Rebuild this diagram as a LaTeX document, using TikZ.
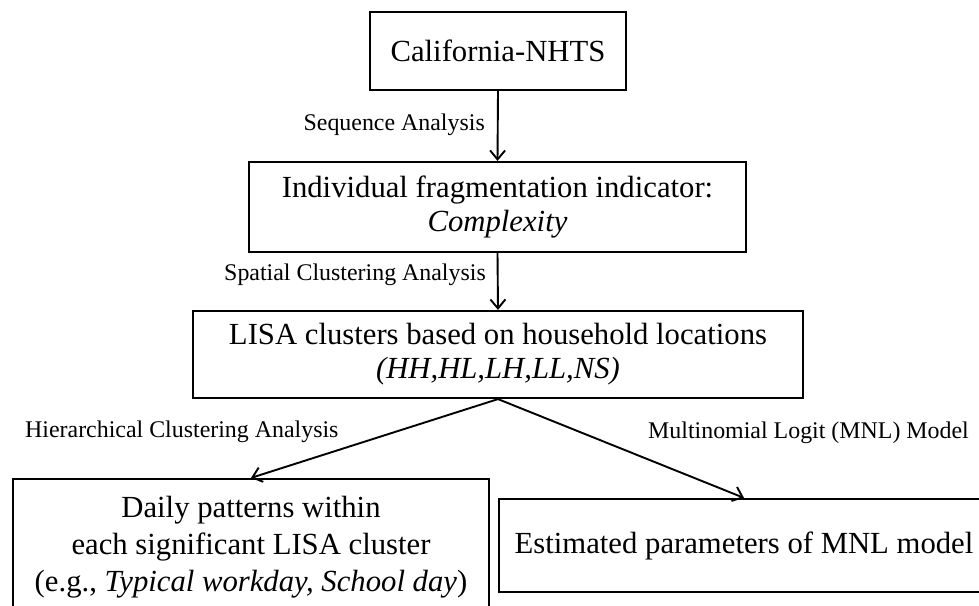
\documentclass[tikz,border=0pt]{standalone}
\usepackage{fontspec}
\setmainfont{Liberation Serif}
\usetikzlibrary{arrows.meta}
\begin{document}
\begin{tikzpicture}[x=1pt,y=-1pt,
  box/.style={draw, line width=2.2pt, align=center, inner sep=0pt,
    font=\fontsize{30.7}{34}\selectfont},
  lbl/.style={inner sep=0pt, font=\fontsize{23.9}{28}\selectfont},
  arr/.style={line width=1.9pt, -{Straight Barb[length=9pt,width=15pt,line width=1.9pt]}}]
\useasboundingbox (0,0) rectangle (979,605);
\clip (0,0) rectangle (979,605);
\node[box, minimum width=256pt, minimum height=78pt] (a) at (498,51) {California-NHTS};
\node[box, minimum width=497pt, minimum height=90pt] (b) at (497.5,207) {Individual fragmentation indicator:\\\textit{Complexity}};
\node[box, minimum width=610pt, minimum height=87pt] (c) at (498,354.5) {LISA clusters based on household locations\\\textit{(HH,HL,LH,LL,NS)}};
\node[box, minimum width=476pt, minimum height=136pt, font=\fontsize{30.7}{37}\selectfont] (d) at (251,547) {Daily patterns within\\each significant LISA cluster\\(e.g., \textit{Typical workday, School day})};
\node[box, minimum width=490pt, minimum height=93pt] (e) at (744,545.5) {Estimated parameters of MNL model};
\draw[arr] (a.south) -- (b.north);
\draw[arr] (b.south) -- (c.north);
\draw[arr] (c.south) -- (d.north);
\draw[arr] (c.south) -- (e.north);
\node[lbl, anchor=east] (l1) at (485,125) {Sequence Analysis};
\node[lbl, anchor=east] (l2) at (486,275) {Spatial Clustering Analysis};
\node[lbl, anchor=west] (l3) at (25,432) {Hierarchical Clustering Analysis};
\node[lbl, anchor=west] (l4) at (648,433) {Multinomial Logit (MNL) Model};
\end{tikzpicture}
\end{document}
